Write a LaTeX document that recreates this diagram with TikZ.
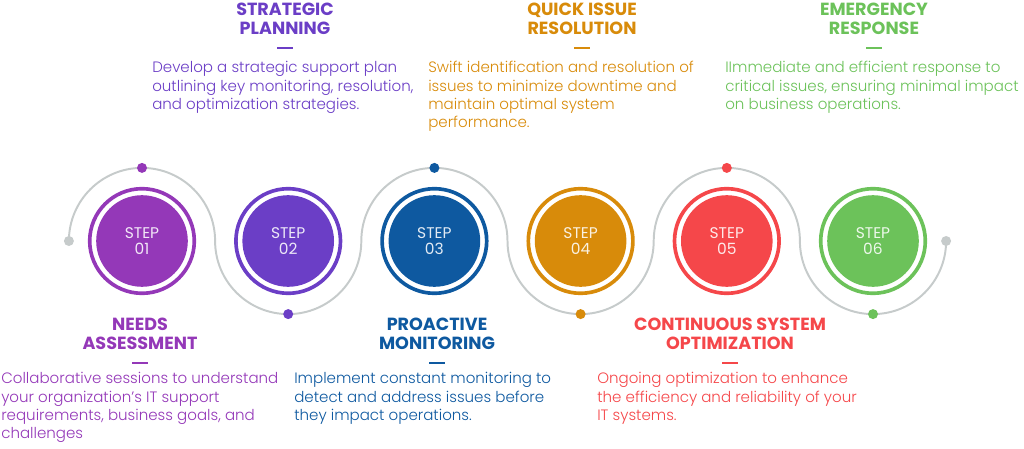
\documentclass[tikz,border=0pt]{standalone}
\usepackage{fontspec}
\setmainfont{Poppins}
\newfontfamily\lightfont{Poppins Light}
\definecolor{stepPurple}{RGB}{148, 56, 184}
\definecolor{stepViolet}{RGB}{107, 62, 198}
\definecolor{stepBlue}{RGB}{14, 89, 160}
\definecolor{stepOrange}{RGB}{216, 139, 10}
\definecolor{stepRed}{RGB}{245, 71, 74}
\definecolor{stepGreen}{RGB}{108, 194, 90}
\definecolor{waveGrey}{RGB}{198, 203, 203}
\usetikzlibrary{positioning, calc}

\begin{document}
\begin{tikzpicture}[
    x=0.025cm, y=0.025cm,
    stepdisc/.style={circle, fill=#1, minimum size=2.29cm, inner sep=0pt,
                     align=center, text=white!88!#1,
                     font=\fontsize{11}{11.8}\selectfont},
    ring/.style={draw=#1, line width=2.6pt},
    wave/.style={draw=waveGrey, line width=1.4pt},
    dot/.style={circle, fill=#1, minimum size=0.25cm, inner sep=0pt},
    title/.style={anchor=north, inner sep=0pt, align=center, text=#1,
                  font=\fontsize{12.5}{13}\selectfont\bfseries},
    dashbar/.style={rectangle, fill=#1, minimum width=0.38cm,
                    minimum height=1.8pt, inner sep=0pt},
    desc/.style={anchor=north west, inner sep=0pt, align=left, text=#1,
                 font=\fontsize{10.7}{13.1}\selectfont\lightfont},
  ]
    \useasboundingbox (0,0) rectangle (1024,448);

    % Centre row: the six steps
    \node[stepdisc=stepPurple] (s1) at (142,207)   {STEP\\01};
    \node[stepdisc=stepViolet] (s2) at (288.2,207) {STEP\\02};
    \node[stepdisc=stepBlue]   (s3) at (434.4,207) {STEP\\03};
    \node[stepdisc=stepOrange] (s4) at (580.6,207) {STEP\\04};
    \node[stepdisc=stepRed]    (s5) at (726.8,207) {STEP\\05};
    \node[stepdisc=stepGreen]  (s6) at (873,207)   {STEP\\06};

    % Outer rings
    \foreach \i/\col in {1/stepPurple, 2/stepViolet, 3/stepBlue,
                         4/stepOrange, 5/stepRed, 6/stepGreen} {
      \draw[ring=\col] (s\i) circle[radius=52.3];
    }

    % Grey wave through the steps
    \coordinate (wstart) at ($(s1)+(-73.1,0)$);
    \coordinate (wend) at ($(s6)+(73.1,0)$);
    \draw[wave] (wstart)
      arc[start angle=180, end angle=0, radius=73.1]
      arc[start angle=180, end angle=360, radius=73.1]
      arc[start angle=180, end angle=0, radius=73.1]
      arc[start angle=180, end angle=360, radius=73.1]
      arc[start angle=180, end angle=0, radius=73.1]
      arc[start angle=180, end angle=360, radius=73.1];
    \node[dot=waveGrey] (e1) at (wstart) {};
    \node[dot=waveGrey] (e2) at (wend) {};

    % Coloured dots on the wave
    \node[dot=stepPurple] (d1) at ($(s1)+(0,73.1)$) {};
    \node[dot=stepViolet] (d2) at ($(s2)+(0,-73.1)$) {};
    \node[dot=stepBlue]   (d3) at ($(s3)+(0,73.1)$) {};
    \node[dot=stepOrange] (d4) at ($(s4)+(0,-73.1)$) {};
    \node[dot=stepRed]    (d5) at ($(s5)+(0,73.1)$) {};
    \node[dot=stepGreen]  (d6) at ($(s6)+(0,-73.1)$) {};

    % Top labels: steps 2, 4, 6
    \node[title=stepViolet] (t2) at (285,445) {STRATEGIC\\PLANNING};
    \node[title=stepOrange] (t4) at (582,445) {QUICK ISSUE\\RESOLUTION};
    \node[title=stepGreen]  (t6) at (874,445) {EMERGENCY\\RESPONSE};
    \node[dashbar=stepViolet, below=0.3cm of t2] (b2) {};
    \node[dashbar=stepOrange, below=0.3cm of t4] (b4) {};
    \node[dashbar=stepGreen,  below=0.3cm of t6] (b6) {};
    \node[desc=stepViolet] (x2) at (152,387)
      {Develop a strategic support plan\\outlining key monitoring, resolution,\\and optimization strategies.};
    \node[desc=stepOrange] (x4) at (428,387)
      {Swift identification and resolution of\\issues to minimize downtime and\\maintain optimal system\\performance.};
    \node[desc=stepGreen] (x6) at (725,387)
      {IImmediate and efficient response to\\critical issues, ensuring minimal impact\\on business operations.};

    % Bottom labels: steps 1, 3, 5
    \node[title=stepPurple] (t1) at (140,130) {NEEDS\\ASSESSMENT};
    \node[title=stepBlue]   (t3) at (437,130) {PROACTIVE\\MONITORING};
    \node[title=stepRed]    (t5) at (730,130) {CONTINUOUS SYSTEM\\OPTIMIZATION};
    \node[dashbar=stepPurple, below=0.3cm of t1] (b1) {};
    \node[dashbar=stepBlue,   below=0.3cm of t3] (b3) {};
    \node[dashbar=stepRed,    below=0.3cm of t5] (b5) {};
    \node[desc=stepPurple] (x1) at (1,76)
      {Collaborative sessions to understand\\your organization’s IT support\\requirements, business goals, and\\challenges};
    \node[desc=stepBlue] (x3) at (294,76)
      {Implement constant monitoring to\\detect and address issues before\\they impact operations.};
    \node[desc=stepRed] (x5) at (597,76)
      {Ongoing optimization to enhance\\the efficiency and reliability of your\\IT systems.};
  \end{tikzpicture}
\end{document}
